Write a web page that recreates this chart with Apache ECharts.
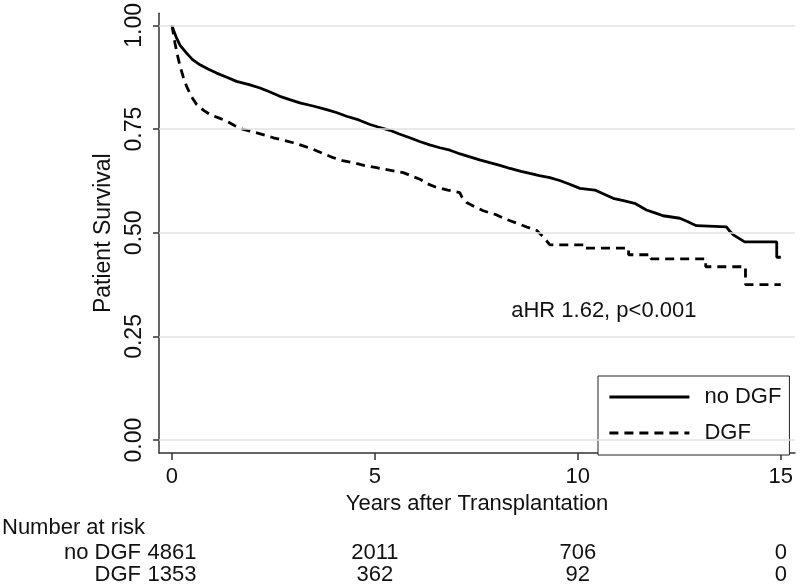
<!DOCTYPE html>
<html>
<head>
<meta charset="utf-8">
<script src="https://cdn.jsdelivr.net/npm/echarts@6/dist/echarts.min.js"></script>
<style>
html,body{margin:0;padding:0;background:#fff;}
#chart{width:800px;height:588px;}
</style>
</head>
<body>
<div id="chart"></div>
<script>
// ---- data ----
const noDGF_t = [0,0.05,0.115,0.2,0.36,0.5,0.69,0.9,1.1,1.35,1.59,1.9,2.17,2.4,2.66,2.9,3.15,3.5,3.81,4.05,4.3,4.6,4.88,5.08,5.37,5.6,5.86,6.1,6.35,6.6,6.85,7.1,7.34,7.6,7.83,8.1,8.33,8.6,8.82,9.05,9.31,9.55,9.8,10.05,10.42,10.65,10.87,11.15,11.4,11.69,11.9,12.1,12.51,12.7,12.92,13.66,13.75,13.83,14.11,14.9,14.9,15.0];
const noDGF_s = [1.0,0.985,0.969,0.952,0.933,0.918,0.905,0.894,0.885,0.875,0.865,0.857,0.849,0.84,0.829,0.821,0.813,0.805,0.797,0.79,0.781,0.772,0.761,0.755,0.747,0.738,0.729,0.72,0.712,0.705,0.699,0.69,0.683,0.675,0.669,0.662,0.655,0.648,0.643,0.638,0.633,0.626,0.617,0.607,0.603,0.593,0.583,0.577,0.571,0.555,0.548,0.541,0.535,0.527,0.517,0.514,0.503,0.495,0.478,0.478,0.441,0.441];
const DGF_t = [0,0.074,0.13,0.2,0.28,0.36,0.48,0.61,0.78,0.94,1.15,1.35,1.55,1.76,2.09,2.3,2.5,2.75,2.99,3.25,3.48,3.7,3.97,4.2,4.47,4.75,5.04,5.3,5.7,5.9,6.11,6.3,6.52,6.8,7.09,7.15,7.26,7.45,7.67,8.0,8.15,8.33,8.55,8.74,8.98,9.15,9.31,10.15,10.15,11.25,11.25,11.8,11.8,13.15,13.15,14.13,14.13,15.0];
const DGF_s = [1.0,0.957,0.93,0.901,0.875,0.853,0.828,0.809,0.795,0.785,0.777,0.769,0.758,0.749,0.741,0.735,0.729,0.723,0.717,0.709,0.701,0.692,0.681,0.674,0.669,0.662,0.657,0.652,0.645,0.637,0.629,0.618,0.609,0.603,0.597,0.585,0.573,0.563,0.553,0.543,0.536,0.529,0.521,0.514,0.506,0.49,0.471,0.471,0.463,0.463,0.447,0.447,0.437,0.437,0.418,0.418,0.375,0.375];
const xTicks = [0,5,10,15];
const yTicks = [0,0.25,0.5,0.75,1.0];
const yTickLabels = ['0.00','0.25','0.50','0.75','1.00'];
const riskGroups = ['no DGF','DGF'];
const riskNoDGF = [4861,2011,706,0];
const riskDGF = [1353,362,92,0];
const annotation = 'aHR 1.62, p<0.001';
const annotationPos = [10.64, 0.3125];

const FONT = '"Liberation Sans", Arial, sans-serif';
const HF = 22;   // horizontal text size
const VF = 23;   // rotated text size
const zip = (a,b) => a.map((v,i)=>[v,b[i]]);

const chart = echarts.init(document.getElementById('chart'), null, {renderer:'canvas'});
const option = {
  animation:false,
  backgroundColor:'#fff',
  textStyle:{fontFamily:FONT},
  grid:{left:159,right:5,top:12,bottom:135,containLabel:false},
  xAxis:{
    type:'value', min:-0.32, max:15.35,
    name:'Years after Transplantation', nameLocation:'middle', nameGap:33,
    nameTextStyle:{fontSize:HF,color:'#111',fontFamily:FONT},
    axisLine:{show:true,onZero:false,lineStyle:{color:'#333',width:1.5}},
    axisTick:{show:true,length:7,customValues:xTicks,lineStyle:{color:'#333',width:1.5}},
    axisLabel:{customValues:xTicks,fontSize:HF,color:'#111',margin:13,fontFamily:FONT},
    splitLine:{show:false}
  },
  yAxis:{
    type:'value', min:-0.031, max:1.029,
    name:'Patient Survival', nameLocation:'middle', nameGap:38, nameRotate:90,
    nameTextStyle:{fontSize:VF,color:'#111',fontFamily:FONT},
    axisLine:{show:true,onZero:false,lineStyle:{color:'#333',width:1.5}},
    axisTick:{show:true,length:6,customValues:yTicks,lineStyle:{color:'#333',width:1.5}},
    axisLabel:{customValues:yTicks,rotate:90,fontSize:VF,color:'#111',margin:13,fontFamily:FONT,
      formatter:(v)=>{const i=yTicks.findIndex(t=>Math.abs(t-v)<1e-6);return i>=0?yTickLabels[i]:'';}},
    splitLine:{show:false}
  },
  legend:{
    data:['no DGF','DGF'], orient:'vertical', left:598, top:376,
    padding:[10,8,11,10], itemGap:14, itemWidth:80, itemHeight:16,
    borderColor:'#222', borderWidth:1, backgroundColor:'#fff',
    itemStyle:{opacity:0, borderWidth:0},
    lineStyle:{width:2.8},
    textStyle:{fontSize:HF,color:'#111',fontFamily:FONT,padding:[0,0,0,10]},
    selectedMode:false
  },
  series:[
    {type:'line', name:'grid', data:[], silent:true, z:1,
     markLine:{silent:true,symbol:['none','none'],label:{show:false},
       lineStyle:{color:'#e3e3e3',width:1.5,type:'solid'},
       data:yTicks.map(v=>({yAxis:v}))}},
    {type:'line', name:'no DGF', data:zip(noDGF_t,noDGF_s), showSymbol:false, symbol:'none', z:3,
     lineStyle:{color:'#000',width:2.8,type:'solid'}, itemStyle:{color:'#000'}},
    {type:'line', name:'DGF', data:zip(DGF_t,DGF_s), showSymbol:false, symbol:'none', z:3,
     lineStyle:{color:'#000',width:2.8,type:[9,6]}, itemStyle:{color:'#000'}}
  ]
};
chart.setOption(option);

function txt(x,y,text,align){
  return {type:'text', x:x, y:y, silent:true,
    style:{text:text, font:HF+'px '+FONT, fill:'#111', align:align, textAlign:align, verticalAlign:'middle', textVerticalAlign:'middle'}};
}
const els = [];
const ap = chart.convertToPixel({xAxisIndex:0,yAxisIndex:0}, annotationPos);
els.push(txt(ap[0],ap[1],annotation,'center'));
els.push(txt(2,528,'Number at risk','left'));
const rows = [riskNoDGF, riskDGF];
const rowY = [553,575];
riskGroups.forEach((g,i)=>{
  els.push(txt(141,rowY[i],g,'right'));
  xTicks.forEach((t,j)=>{
    const px = chart.convertToPixel({xAxisIndex:0}, t);
    els.push(txt(px,rowY[i],String(rows[i][j]),'center'));
  });
});
chart.setOption({graphic:{elements:els}});
</script>
</body>
</html>
